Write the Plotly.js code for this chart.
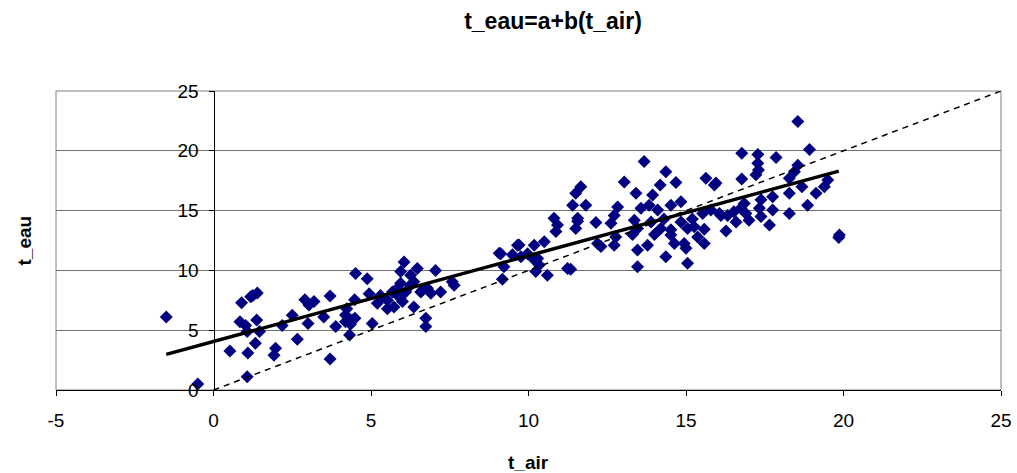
<!DOCTYPE html>
<html>
<head>
<meta charset="utf-8">
<script src="https://cdn.plot.ly/plotly-3.0.1.min.js"></script>
<style>html,body{margin:0;padding:0;background:#fff;}#chart{width:1017px;height:473px;}</style>
</head>
<body>
<div id="chart"></div>
<script>
// Observed data: air temperature vs water temperature
const tAir = [
  -1.5, -0.5, 0.52, 0.89, 1.18, 1.39, 1.25, 0.84, 1.02, 1.07, 1.37, 1.46, 1.33, 1.09, 1.07,
  1.97, 1.92, 2.18, 2.5, 2.66, 2.9, 3.19, 3.03, 3.0, 3.5, 3.7, 3.88, 3.7, 4.23, 4.32,
  4.19, 4.35, 4.49, 4.51, 4.88, 4.48, 4.94, 5.04, 5.2, 5.3, 5.52, 4.19, 4.41, 5.31,
  5.52, 5.73, 5.68, 5.89, 6.05, 5.94, 6.26, 6.47, 6.36, 6.58, 6.36, 6.79, 7.05, 6.74,
  6.74, 7.21, 7.64, 7.58, 5.84, 6.1, 6.63, 6.0, 5.94, 6.26, 6.9,
  9.12, 9.22, 9.17, 9.65, 9.49, 9.76, 9.97, 10.18, 10.5, 10.29, 10.34, 10.23, 10.6, 11.24,
  10.81, 10.92, 10.87, 11.4, 11.56, 11.5, 10.18, 11.82, 11.66, 11.5, 11.56, 11.34, 9.07, 9.7,
  12.14, 12.62, 12.83, 13.41, 13.94, 13.36, 13.04, 13.67, 14.36, 14.18, 14.68, 13.57, 13.83,
  14.1, 14.52, 14.84, 15.53, 15.79, 16.06, 13.46, 13.89, 14.2, 14.52, 14.84, 15.05, 15.26,
  15.58, 12.19, 12.3, 12.72, 12.77, 13.46, 13.78, 14.36, 14.52, 14.63, 14.94, 15.0, 15.05,
  13.46, 15.37, 15.58, 12.72, 13.3, 14.0, 14.3, 15.2, 15.63, 15.9,
  18.55, 18.92, 16.77, 17.28, 17.86, 17.28, 17.3, 17.22, 15.95, 18.55, 18.44, 18.28, 16.77,
  19.5, 19.39, 19.13, 18.68, 18.28, 17.75, 17.38, 17.33, 17.75, 18.28, 18.86, 16.85, 16.74,
  16.52, 16.32, 16.11, 16.9, 17.0, 17.38, 17.65, 16.59, 16.27, 19.87, 19.85
];
const tEau = [
  6.1, 0.5, 3.26, 7.3, 7.8, 8.1, 7.9, 5.7, 5.4, 4.9, 5.85, 4.9, 3.9, 3.1, 1.1,
  3.5, 2.9, 5.4, 6.25, 4.25, 7.55, 7.4, 7.1, 5.55, 6.1, 7.85, 5.3, 2.6, 6.8, 4.6,
  5.7, 5.5, 6.0, 9.75, 9.3, 7.55, 8.05, 5.55, 7.25, 7.9, 6.8, 6.27, 5.85, 7.66,
  7.5, 6.95, 8.2, 7.8, 10.7, 9.9, 9.6, 10.15, 9.05, 8.2, 6.95, 8.5, 10.0, 6.0,
  5.3, 8.2, 8.75, 9.05, 8.5, 8.2, 8.35, 7.4, 8.92, 8.78, 8.08,
  11.4, 10.3, 9.25, 12.1, 11.3, 11.15, 11.4, 12.1, 12.4, 11.0, 10.45, 9.9, 9.6, 10.15,
  14.35, 13.8, 13.25, 15.45, 14.35, 13.5, 10.9, 15.45, 17.0, 16.45, 14.1, 10.1, 11.43, 12.12,
  14.0, 13.95, 15.3, 16.45, 16.3, 14.2, 17.4, 19.1, 18.25, 17.15, 17.35, 15.2, 15.45,
  15.05, 15.45, 15.75, 14.75, 15.05, 14.75, 13.5, 14.05, 13.5, 13.4, 14.05, 13.5, 13.65,
  13.45, 12.25, 12.0, 12.1, 12.8, 11.7, 12.1, 11.15, 12.95, 12.25, 12.25, 11.85, 10.6,
  10.3, 12.8, 12.25, 14.6, 13.0, 13.0, 14.3, 14.3, 17.7, 17.15,
  22.45, 20.1, 19.8, 19.7, 19.45, 18.95, 18.4, 18.0, 17.3, 18.8, 18.25, 17.7, 17.65,
  17.55, 17.0, 16.45, 17.0, 16.45, 16.15, 15.9, 15.2, 15.05, 14.75, 15.45, 15.6, 15.2,
  14.9, 14.6, 14.6, 14.75, 14.2, 14.5, 13.8, 14.05, 13.3, 12.95, 12.75
];
// Fitted line t_eau = a + b(t_air), endpoints
const trendX = [-1.5, 19.85];
const trendY = [2.98, 18.3];
// Reference line t_eau = t_air
const identX = [0, 25];
const identY = [0, 25];
const tickVals = [-5, 0, 5, 10, 15, 20, 25];
const yTickVals = [0, 5, 10, 15, 20, 25];

const font = 'Arial, "Liberation Sans", sans-serif';

const traces = [
  {x: tAir, y: tEau, type: 'scatter', mode: 'markers',
   marker: {symbol: 'diamond', size: 10, color: '#000080', line: {width: 0}},
   hoverinfo: 'x+y', showlegend: false},
  {x: identX, y: identY, type: 'scatter', mode: 'lines',
   line: {color: '#000', width: 1.5, dash: '6px,5px'}, showlegend: false, hoverinfo: 'skip'},
  {x: trendX, y: trendY, type: 'scatter', mode: 'lines',
   line: {color: '#000', width: 3.5}, showlegend: false, hoverinfo: 'skip'}
];

const layout = {
  width: 1017, height: 473,
  margin: {l: 56, r: 16, t: 91, b: 83},
  paper_bgcolor: '#fff', plot_bgcolor: '#fff',
  font: {family: font, size: 19, color: '#000'},
  showlegend: false,
  title: {text: '<b>t_eau=a+b(t_air)</b>', font: {family: font, size: 23, color: '#000'},
          x: 553/1017, xref: 'container', xanchor: 'center', y: 1 - 21/473, yref: 'container', yanchor: 'middle'},
  xaxis: {range: [-5, 25], tickvals: tickVals, ticktext: tickVals.map(String),
          showgrid: false, zeroline: false, showline: true, linecolor: '#000', linewidth: 1,
          ticks: 'outside', ticklen: 5, tickcolor: '#000', tickfont: {size: 19},
          ticklabelstandoff: 8, fixedrange: true},
  yaxis: {range: [0, 25], tickvals: yTickVals, ticktext: yTickVals.map(String),
          anchor: 'free', position: 5/30,
          showgrid: true, gridcolor: '#707070', gridwidth: 1,
          zeroline: false, showline: true, linecolor: '#000', linewidth: 1,
          ticks: 'outside', ticklen: 5, tickcolor: '#000', tickfont: {size: 19},
          ticklabelstandoff: 6, fixedrange: true},
  shapes: [
    {type: 'rect', xref: 'paper', yref: 'paper', x0: 0, x1: 1, y0: 0, y1: 1,
     line: {color: '#808080', width: 1}, fillcolor: 'rgba(0,0,0,0)', layer: 'below'}
  ],
  annotations: [
    {text: '<b>t_air</b>', xref: 'paper', yref: 'paper', x: 0.5, y: (390 - 462) / 299,
     xanchor: 'center', yanchor: 'middle', showarrow: false, font: {family: font, size: 19}},
    {text: '<b>t_eau</b>', xref: 'paper', yref: 'paper', x: (24 - 56) / 945, y: 0.5, textangle: -90,
     xanchor: 'center', yanchor: 'middle', showarrow: false, font: {family: font, size: 19}}
  ]
};

Plotly.newPlot('chart', traces, layout, {displayModeBar: false, staticPlot: true});
</script>
</body>
</html>
